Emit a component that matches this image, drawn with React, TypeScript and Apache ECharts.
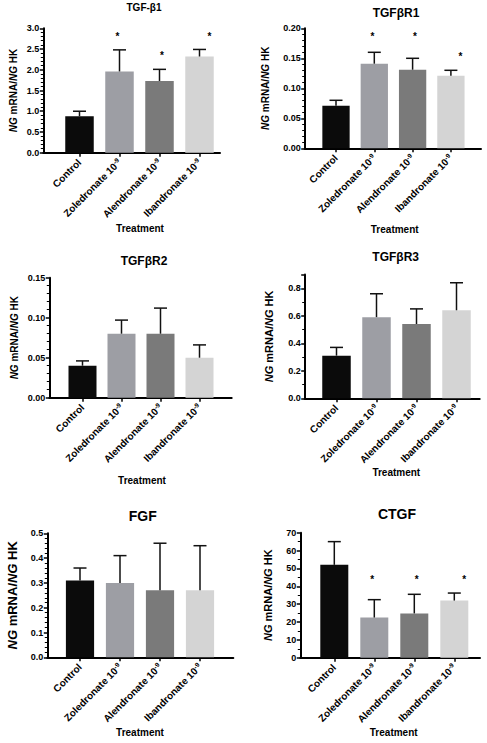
import React, { useEffect, useRef } from "react";
import * as echarts from "echarts";

// ---------- data ----------
const categories = ["Control", "Zoledronate", "Alendronate", "Ibandronate"];
const doseLabel = ["", "10", "10", "10"];
const doseExponent = ["", "-9", "-9", "-9"];
const barColors = ["#0b0b0b", "#9d9ea4", "#7a7a7a", "#d4d4d4"];

const titles = ["TGF-β1", "TGFβR1", "TGFβR2", "TGFβR3", "FGF", "CTGF"];

const tgfb1Mean = [0.88, 1.96, 1.73, 2.32];
const tgfb1Err = [0.12, 0.52, 0.28, 0.17];
const tgfb1Star = [null, 2.84, 2.4, 2.84];

const tgfbr1Mean = [0.071, 0.141, 0.131, 0.121];
const tgfbr1Err = [0.009, 0.019, 0.019, 0.009];
const tgfbr1Star = [null, 0.189, 0.189, 0.157];

const tgfbr2Mean = [0.04, 0.08, 0.08, 0.05];
const tgfbr2Err = [0.006, 0.017, 0.032, 0.016];
const tgfbr2Star = [null, null, null, null];

const tgfbr3Mean = [0.31, 0.59, 0.54, 0.64];
const tgfbr3Err = [0.06, 0.17, 0.11, 0.2];
const tgfbr3Star = [null, null, null, null];

const fgfMean = [0.31, 0.3, 0.27, 0.27];
const fgfErr = [0.05, 0.11, 0.19, 0.18];
const fgfStar = [null, null, null, null];

const ctgfMean = [52, 22.5, 24.8, 32];
const ctgfErr = [13, 10, 10.7, 4.2];
const ctgfStar = [null, 44.8, 44.8, 44.8];

const yMax = [3, 0.2, 0.15, 0.9, 0.5, 70];
const yInterval = [0.5, 0.05, 0.05, 0.2, 0.1, 10];
const yDecimals = [1, 2, 2, 1, 1, 0];
const yMinorSplit = [5, 5, 5, 2, 5, 2];

const yAxisName = "{i|NG} mRNA/{i|NG} HK";
const xAxisName = "Treatment";

const means = [tgfb1Mean, tgfbr1Mean, tgfbr2Mean, tgfbr3Mean, fgfMean, ctgfMean];
const errs = [tgfb1Err, tgfbr1Err, tgfbr2Err, tgfbr3Err, fgfErr, ctgfErr];
const stars = [tgfb1Star, tgfbr1Star, tgfbr2Star, tgfbr3Star, fgfStar, ctgfStar];

// ---------- layout (positions, sizes) ----------
const layout = [
  { ax: 43.3, c0: 79.5, step: 40, right: 220, top: 28.3, zero: 152.7, barW: 28.5, title: [144, 7.5], titleSize: 10, treat: [140, 228], nameGap: 25, nameSize: 10 },
  { ax: 304.7, c0: 336, step: 38.3, right: 481, top: 28.3, zero: 148.3, barW: 27.3, title: [396, 12.7], titleSize: 12, treat: [394.7, 229.3], nameGap: 34, nameSize: 10 },
  { ax: 49.3, c0: 82.5, step: 39, right: 231.7, top: 277.7, zero: 397.7, barW: 28, title: [144, 260.7], titleSize: 12, treat: [142, 480], nameGap: 30, nameSize: 10 },
  { ax: 304.7, c0: 336.5, step: 40, right: 479.7, top: 274.5, zero: 398.3, barW: 28.5, title: [395.7, 256.7], titleSize: 12, treat: [396.3, 472.3], nameGap: 30, nameSize: 11 },
  { ax: 47.3, c0: 80, step: 40, right: 233.3, top: 533.3, zero: 657.3, barW: 28.2, title: [142.7, 516], titleSize: 14, treat: [140, 732.3], nameGap: 28, nameSize: 13 },
  { ax: 300.3, c0: 334.3, step: 40, right: 480, top: 532.7, zero: 657.7, barW: 28, title: [397, 514.3], titleSize: 14, treat: [393.7, 732.3], nameGap: 26.5, nameSize: 11 },
];
const starOffset = [0, -0.05, 0.06, 0.25];

const FONT = "'Liberation Sans', Arial, Helvetica, sans-serif";
const INK = "#000";

function centeredText(text: string, x: number, y: number, size: number) {
  return {
    type: "text",
    x,
    y,
    style: {
      text,
      fill: INK,
      font: `bold ${size}px ${FONT}`,
      align: "center",
      verticalAlign: "middle",
      textAlign: "center",
      textVerticalAlign: "middle",
    },
  };
}

function buildOption() {
  const grid: any[] = [];
  const xAxis: any[] = [];
  const yAxis: any[] = [];
  const series: any[] = [];
  const graphic: any[] = [];
  const catIdx = categories.map((_, i) => i);

  layout.forEach((L, p) => {
    grid.push({
      left: L.ax,
      top: L.top,
      width: L.right - L.ax,
      height: L.zero - L.top,
      containLabel: false,
      outerBoundsMode: "none",
    });
    xAxis.push({
      type: "value",
      gridIndex: p,
      min: -(L.c0 - L.ax) / L.step,
      max: (L.right - L.c0) / L.step,
      splitLine: { show: false },
      axisLine: { show: true, onZero: false, lineStyle: { color: INK, width: 2 } },
      axisTick: { show: true, customValues: catIdx, length: 4, lineStyle: { color: INK, width: 1.5 } },
      axisLabel: {
        customValues: catIdx,
        rotate: 45,
        margin: 8,
        color: INK,
        fontFamily: FONT,
        fontWeight: "bold",
        fontSize: 10,
        formatter: (v: number) => {
          const i = Math.round(v);
          if (!categories[i]) return "";
          return doseLabel[i]
            ? `{b|${categories[i]} ${doseLabel[i]}}{sup|${doseExponent[i]}}`
            : `{b|${categories[i]}}`;
        },
        rich: {
          b: { fontFamily: FONT, fontWeight: "bold", fontSize: 10, color: INK, lineHeight: 12 },
          sup: { fontFamily: FONT, fontWeight: "bold", fontSize: 6.5, color: INK, lineHeight: 12, verticalAlign: "top" },
        },
      },
    });
    yAxis.push({
      type: "value",
      gridIndex: p,
      min: 0,
      max: yMax[p],
      interval: yInterval[p],
      splitLine: { show: false },
      axisLine: { show: true, onZero: false, lineStyle: { color: INK, width: 2 } },
      axisTick: { show: true, length: 3.5, lineStyle: { color: INK, width: 1.5 } },
      minorTick: { show: true, splitNumber: yMinorSplit[p], length: 2.5, lineStyle: { color: INK, width: 1 } },
      axisLabel: {
        margin: 4,
        color: INK,
        fontFamily: FONT,
        fontWeight: "bold",
        fontSize: 9,
        showMaxLabel: p === 3 ? false : true,
        formatter: (v: number) => {
          if (v > yMax[p] - 1e-9 && p === 3) return "";
          return v.toFixed(yDecimals[p]);
        },
      },
      name: yAxisName,
      nameLocation: "middle",
      nameRotate: 90,
      nameGap: L.nameGap,
      nameTextStyle: {
        fontFamily: FONT,
        fontWeight: "bold",
        fontSize: L.nameSize,
        color: INK,
        rich: {
          i: { fontFamily: FONT, fontWeight: "bold", fontStyle: "italic", fontSize: L.nameSize, color: INK },
        },
      },
    });

    series.push({
      type: "bar",
      xAxisIndex: p,
      yAxisIndex: p,
      barWidth: L.barW,
      z: 2,
      data: means[p].map((v, i) => ({ value: [i, v], itemStyle: { color: barColors[i] } })),
    });
    series.push({
      type: "custom",
      xAxisIndex: p,
      yAxisIndex: p,
      z: 3,
      encode: { x: 0, y: [1, 2] },
      data: means[p].map((v, i) => [i, v, v + errs[p][i]]),
      renderItem: (params: any, api: any) => {
        const x = api.value(0);
        const p0 = api.coord([x, api.value(1)]);
        const p1 = api.coord([x, api.value(2)]);
        const st = { stroke: "#111", lineWidth: 1.5 };
        return {
          type: "group",
          children: [
            { type: "line", shape: { x1: p0[0], y1: p0[1], x2: p1[0], y2: p1[1] }, style: st },
            { type: "line", shape: { x1: p1[0] - 6.5, y1: p1[1], x2: p1[0] + 6.5, y2: p1[1] }, style: st },
          ],
        };
      },
    });
    const starData = stars[p]
      .map((s, i) => (s == null ? null : [i + starOffset[i], s]))
      .filter((d) => d !== null);
    if (starData.length) {
      series.push({
        type: "custom",
        xAxisIndex: p,
        yAxisIndex: p,
        z: 4,
        data: starData,
        renderItem: (params: any, api: any) => {
          const pt = api.coord([api.value(0), api.value(1)]);
          return {
            type: "text",
            x: pt[0],
            y: pt[1] + 2,
            style: {
              text: "*",
              fill: INK,
              font: `bold 10px ${FONT}`,
              align: "center",
              verticalAlign: "middle",
              textAlign: "center",
              textVerticalAlign: "middle",
            },
          };
        },
      });
    }

    graphic.push(centeredText(titles[p], L.title[0], L.title[1], L.titleSize));
    graphic.push(centeredText(xAxisName, L.treat[0], L.treat[1], 10));
  });

  return {
    animation: false,
    backgroundColor: "#fff",
    grid,
    xAxis,
    yAxis,
    series,
    graphic,
  };
}

export default function App() {
  const ref = useRef<HTMLDivElement>(null);
  useEffect(() => {
    document.body.style.margin = "0";
    if (!ref.current) return;
    const chart = echarts.init(ref.current, null, { renderer: "svg" });
    chart.setOption(buildOption() as any);
    return () => chart.dispose();
  }, []);
  return <div ref={ref} style={{ width: 487, height: 743 }} />;
}
